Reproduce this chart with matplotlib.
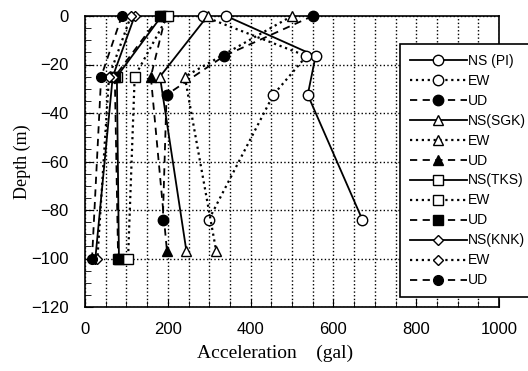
import numpy as np
import matplotlib
matplotlib.use("Agg")
import matplotlib.pyplot as plt
from matplotlib.ticker import MultipleLocator

# depths (m) and peak accelerations (gal)
depth_pi = [0, -16.5, -32.5, -84]
pi_ns = [341, 557, 538, 670]
pi_ew = [284, 535, 455, 299]
pi_ud = [550, 336, 197, 188]

depth_sgk = [0, -25, -97]
sgk_ns = [296, 181, 245]
sgk_ew = [500, 241, 317]
sgk_ud = [195, 159, 198]

depth_tks = [0, -25, -100]
tks_ns = [185, 77, 82]
tks_ew = [200, 120, 104]
tks_ud = [181, 72, 80]

depth_knk = [0, -25, -100]
knk_ns = [120, 67, 25]
knk_ew = [111, 58, 30]
knk_ud = [89, 39, 17]

labels = ["NS (PI)", "EW", "UD", "NS(SGK)", "EW", "UD",
          "NS(TKS)", "EW", "UD", "NS(KNK)", "EW", "UD"]

plt.rcParams['font.family'] = ['Liberation Sans', 'DejaVu Sans']

fig = plt.figure(figsize=(5.28, 3.71), dpi=100)
ax = fig.add_axes([85/528, 1-307/371, 414/528, 291/371])

series = [
    (pi_ns, depth_pi, '-', 'o', 'w', 7.5),
    (pi_ew, depth_pi, ':', 'o', 'w', 7.5),
    (pi_ud, depth_pi, '--', 'o', 'k', 7.5),
    (sgk_ns, depth_sgk, '-', '^', 'w', 7),
    (sgk_ew, depth_sgk, ':', '^', 'w', 7),
    (sgk_ud, depth_sgk, '--', '^', 'k', 7),
    (tks_ns, depth_tks, '-', 's', 'w', 7.5),
    (tks_ew, depth_tks, ':', 's', 'w', 7.5),
    (tks_ud, depth_tks, '--', 's', 'k', 7.5),
    (knk_ns, depth_knk, '-', 'D', 'w', 5),
    (knk_ew, depth_knk, ':', 'D', 'w', 5),
    (knk_ud, depth_knk, '--', 'o', 'k', 7),
]

for (xs, ys, ls, mk, fc, ms), lab in zip(series, labels):
    lw = 1.6 if ls == ':' else 1.3
    kw = dict(dashes=(4, 3)) if ls == '--' else {}
    ax.plot(xs, ys, color='k', linestyle=ls, lw=lw, marker=mk, ms=ms,
            mfc=fc, mec='k', mew=1.0, clip_on=False, zorder=3, label=lab, **kw)

ax.set_xlim(0, 1000)
ax.set_ylim(-120, 0)
ax.xaxis.set_major_locator(MultipleLocator(200))
ax.xaxis.set_minor_locator(MultipleLocator(50))
ax.yaxis.set_major_locator(MultipleLocator(20))
ax.yaxis.set_minor_locator(MultipleLocator(5))
ax.grid(True, which='major', axis='y', linestyle=':', color='k', lw=1.0)
ax.grid(True, which='both', axis='x', linestyle=':', color='k', lw=1.0)
ax.tick_params(which='both', direction='in', top=False, right=False)
ax.tick_params(which='major', length=6, labelsize=12)
ax.tick_params(axis='x', which='major', pad=11)
ax.tick_params(axis='y', which='major', pad=12)
ax.tick_params(which='minor', length=4)
for sp in ax.spines.values():
    sp.set_linewidth(1.2)

ax.set_xlabel("Acceleration    (gal)", family='Liberation Serif', fontsize=14)
ax.xaxis.set_label_coords(0.46, -0.13)
ax.set_ylabel("Depth (m)", family='Liberation Serif', fontsize=13)
ax.yaxis.set_label_coords(-0.13, 0.5)

leg = ax.legend(loc='upper left', bbox_to_anchor=(393/528, 1-37/371),
                bbox_transform=fig.transFigure, fontsize=10,
                handlelength=4.1, handletextpad=0.1, labelspacing=0.43,
                borderpad=0.7, frameon=True, fancybox=False,
                edgecolor='k', framealpha=1)
leg.get_frame().set_linewidth(1.2)

fig.savefig("out.png", dpi=100)
